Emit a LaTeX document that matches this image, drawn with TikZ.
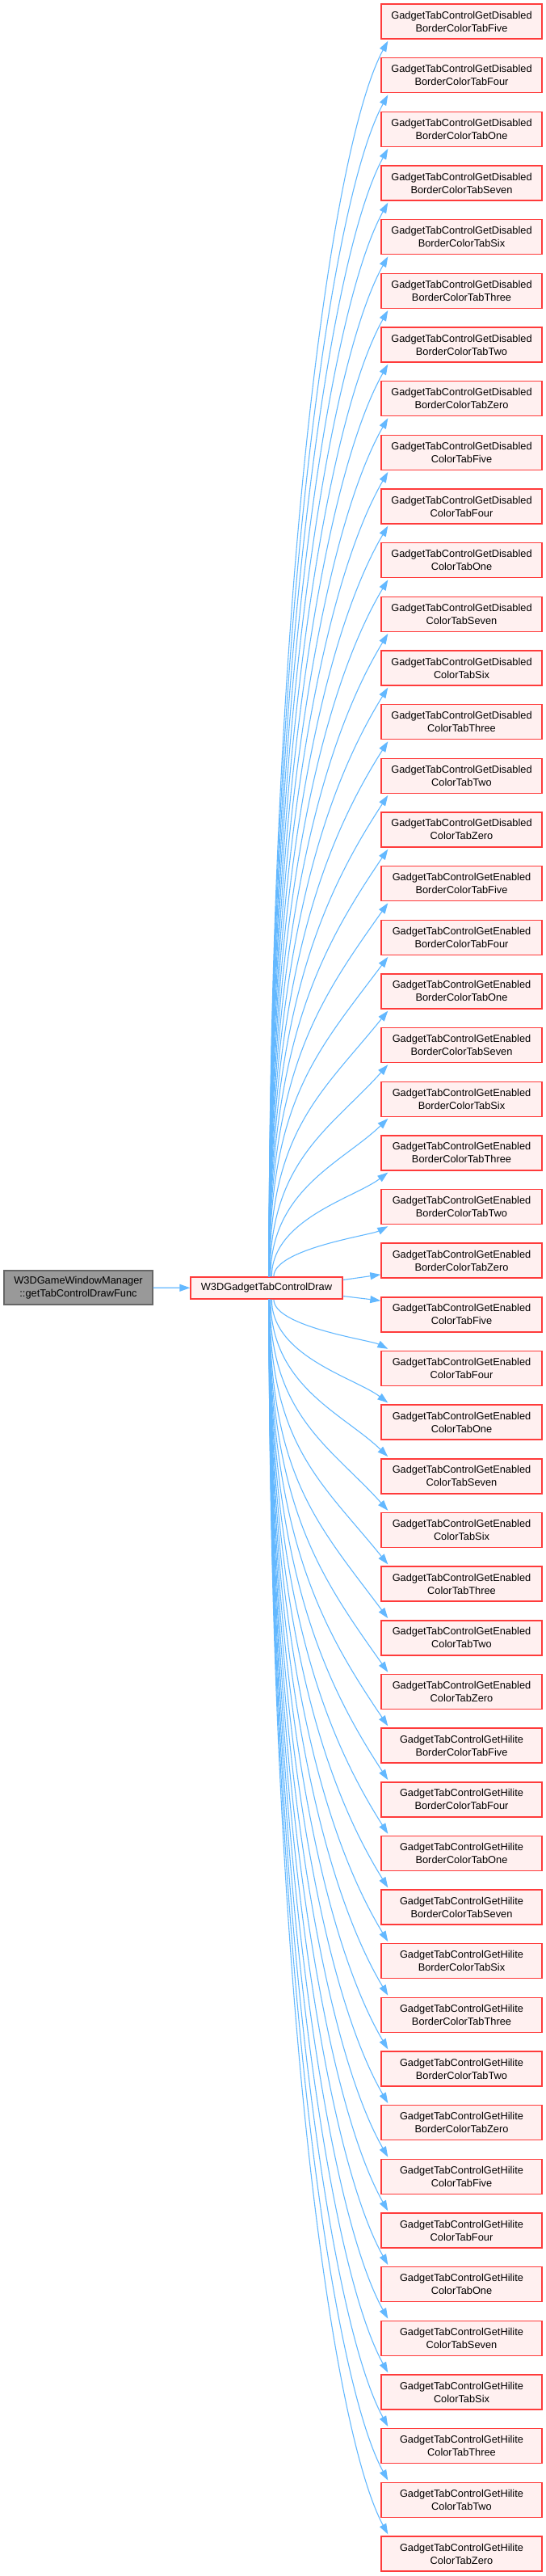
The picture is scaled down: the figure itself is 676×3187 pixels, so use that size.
\documentclass[tikz,border=0pt]{standalone}
\usepackage{fontspec}
\setmainfont{Liberation Sans}
\usetikzlibrary{arrows.meta,calc}
\definecolor{edgeblue}{HTML}{63B8FF}
\definecolor{fnfill}{HTML}{FFF0F0}
\definecolor{fnborder}{HTML}{FF3B3B}
\definecolor{rootfill}{HTML}{999999}
\definecolor{rootborder}{HTML}{666666}
\begin{document}
\begin{tikzpicture}[x=1pt,y=-1pt,
  every node/.style={font=\fontsize{12.8}{16}\selectfont, align=center, inner sep=0pt},
  fn/.style={draw=fnborder, fill=fnfill, line width=1.4pt, minimum width=199pt, minimum height=43pt},
  root/.style={draw=rootborder, fill=rootfill, line width=1.4pt, minimum width=184pt, minimum height=42pt},
  call/.style={draw=edgeblue, line width=1.1pt, -{Triangle[length=13pt,width=9pt]}}]

\useasboundingbox (0,0) rectangle (676,3187);

\node[root] (root) at (97,1593) {W3DGameWindowManager\\::getTabControlDrawFunc};
\node[fn, minimum width=188pt, minimum height=27pt] (mid) at (330,1593.5) {W3DGadgetTabControlDraw};

\foreach \vState [count=\a from 0] in {Disabled,Enabled,Hilite}
 \foreach \vKind [count=\b from 0] in {BorderColor,Color}
  \foreach \vTab [count=\c from 0] in {Five,Four,One,Seven,Six,Three,Two,Zero} {
    \pgfmathtruncatemacro\idx{\a*16+\b*8+\c}
    \node[fn] (n\idx) at (571.5, {26.5+66.66*\idx}) {GadgetTabControlGet\vState\\\vKind Tab\vTab};
  }

\draw[call] (root) -- (mid);

\foreach \i in {0,...,22} {
  \pgfmathsetmacro\ye{26.5+66.66*\i+23.5}
  \pgfmathsetmacro\D{1580-\ye}
  \pgfmathsetmacro\xs{333+10*exp(-\D/120)}
  \pgfmathsetmacro\ang{atan(\D/150)*0.55+15}
  \pgfmathsetmacro\L{min(0.4*\D,150)}
  \draw[call] ($(mid.north)+({\xs-330},0)$) .. controls ({\xs},{1580-0.55*\D}) and ({481-\L*cos(\ang)},{\ye+\L*sin(\ang)}) .. ($(n\i.south west)+(9,2)$);
}
\foreach \i in {25,...,47} {
  \pgfmathsetmacro\ye{26.5+66.66*\i-23.5}
  \pgfmathsetmacro\D{\ye-1607}
  \pgfmathsetmacro\xs{333+10*exp(-\D/120)}
  \pgfmathsetmacro\ang{atan(\D/150)*0.55+15}
  \pgfmathsetmacro\L{min(0.4*\D,150)}
  \draw[call] ($(mid.south)+({\xs-330},0)$) .. controls ({\xs},{1607+0.55*\D}) and ({481-\L*cos(\ang)},{\ye-\L*sin(\ang)}) .. ($(n\i.north west)+(9,-2)$);
}
\draw[call] ($(mid.east)+(0,-10)$) -- ($(n23.south west)+(0,-5)$);
\draw[call] ($(mid.east)+(0,10)$) -- ($(n24.north west)+(0,5)$);
\end{tikzpicture}
\end{document}
